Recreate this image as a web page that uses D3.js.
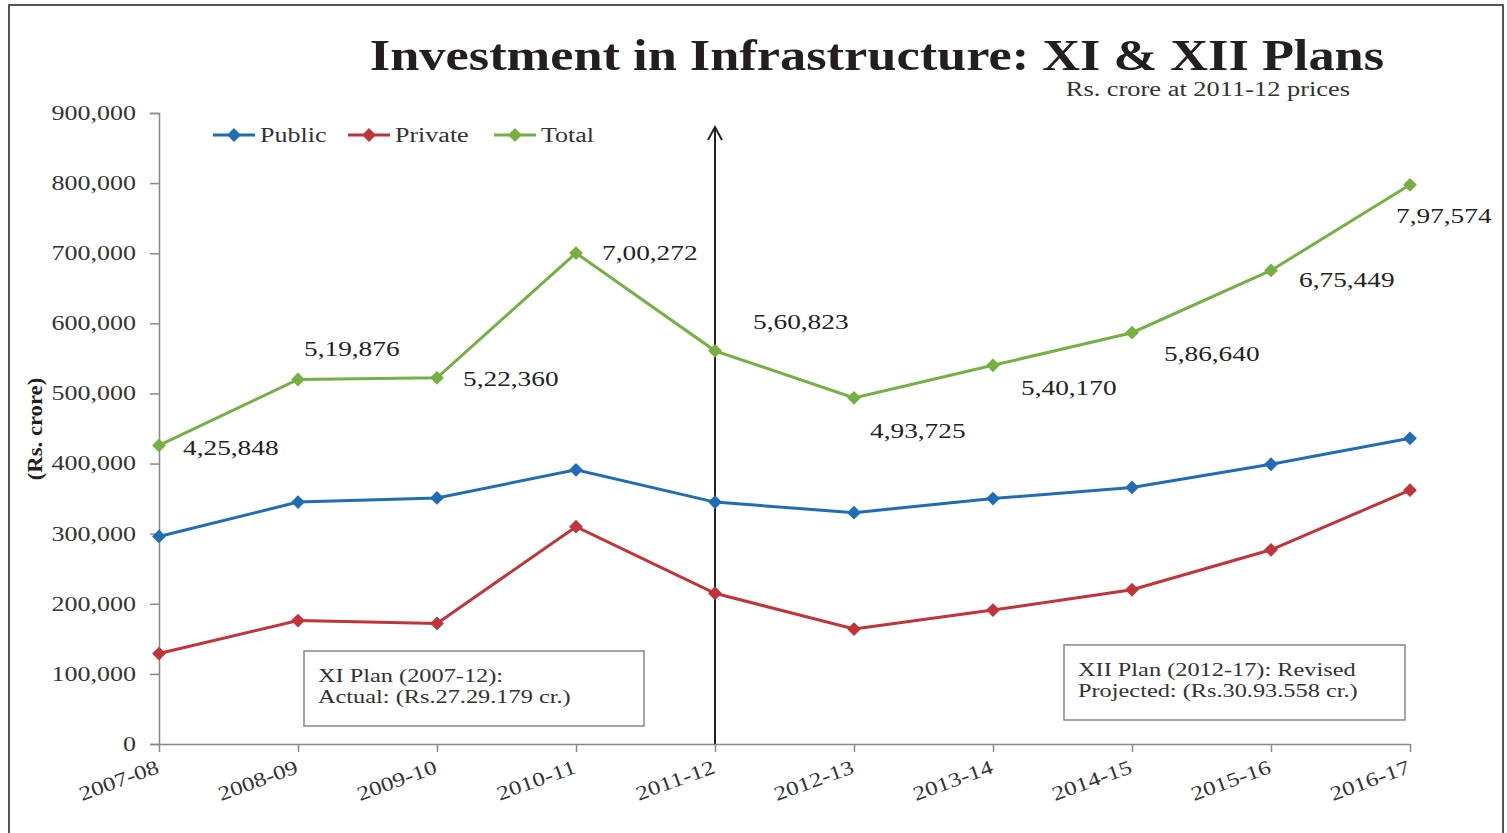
<!DOCTYPE html>
<html>
<head>
<meta charset="utf-8">
<script src="https://cdn.jsdelivr.net/npm/d3@7"></script>
<style>
  body { margin: 0; background: #fff; }
  text { font-family: "Liberation Serif", "DejaVu Serif", serif; }
</style>
</head>
<body>
<div id="chart"></div>
<script>
// data
const years = ["2007-08", "2008-09", "2009-10", "2010-11", "2011-12",
               "2012-13", "2013-14", "2014-15", "2015-16", "2016-17"];
const publicInv  = [296000, 345000, 351000, 391000, 345000, 330000, 350000, 366000, 399000, 436000];
const privateInv = [129000, 176000, 172000, 310000, 215000, 164000, 191000, 220000, 277000, 362000];
const totalInv   = [425848, 519876, 522360, 700272, 560823, 493725, 540170, 586640, 675449, 797574];
const totalLabels = ["4,25,848", "5,19,876", "5,22,360", "7,00,272", "5,60,823",
                     "4,93,725", "5,40,170", "5,86,640", "6,75,449", "7,97,574"];
const yTicks = [0, 100000, 200000, 300000, 400000, 500000, 600000, 700000, 800000, 900000];

const svgWidth = 1507, svgHeight = 833;
const margin = { top: 113, right: 97, bottom: 89, left: 159 };
const width = svgWidth - margin.left - margin.right;
const height = svgHeight - margin.top - margin.bottom;

// the source uses a wide serif, so stretch Liberation Serif horizontally
function stretch(sel, k) {
  sel.each(function() {
    const w = this.getComputedTextLength();
    d3.select(this).attr("textLength", w * k).attr("lengthAdjust", "spacingAndGlyphs");
  });
}

const svg = d3.select("#chart").append("svg")
    .attr("width", svgWidth)
    .attr("height", svgHeight);

// outer frame
svg.append("rect")
    .attr("x", 9).attr("y", 5)
    .attr("width", 1494).attr("height", 840)
    .attr("fill", "none")
    .attr("stroke", "#555")
    .attr("stroke-width", 2);

svg.append("text")
    .attr("x", 877).attr("y", 70)
    .attr("text-anchor", "middle")
    .attr("font-size", 44).attr("font-weight", "bold")
    .attr("fill", "#231f20")
    .text("Investment in Infrastructure: XI & XII Plans")
    .call(stretch, 1.19);

svg.append("text")
    .attr("x", 1350).attr("y", 96)
    .attr("text-anchor", "end")
    .attr("font-size", 20)
    .attr("fill", "#333")
    .text("Rs. crore at 2011-12 prices")
    .call(stretch, 1.32);

const chart = svg.append("g")
    .attr("transform", `translate(${margin.left},${margin.top})`);

const x = d3.scalePoint().domain(years).range([0, width]);
const y = d3.scaleLinear().domain([0, 900000]).range([height, 0]);

const fmt = d3.format(",");

// axes
const yAxis = chart.append("g")
    .call(d3.axisLeft(y).tickValues(yTicks).tickFormat(d => fmt(d)).tickSize(9).tickPadding(14));
yAxis.selectAll("line, path").attr("stroke", "#888").attr("stroke-width", 1.5);
yAxis.selectAll("text").attr("font-size", 20).attr("fill", "#333")
    .style("font-family", "Liberation Serif")
    .call(stretch, 1.3);

const xAxis = chart.append("g")
    .attr("transform", `translate(0,${height})`)
    .call(d3.axisBottom(x).tickSize(8).tickSizeOuter(0));
xAxis.selectAll("line, path").attr("stroke", "#888").attr("stroke-width", 1.5);
xAxis.selectAll("text")
    .attr("font-size", 20).attr("fill", "#333")
    .style("font-family", "Liberation Serif")
    .attr("text-anchor", "end")
    .attr("x", -9).attr("y", 27).attr("dy", 0)
    .attr("transform", "rotate(-20)")
    .call(stretch, 1.25);

svg.append("text")
    .attr("transform", "translate(42,429) rotate(-90)")
    .attr("text-anchor", "middle")
    .attr("font-size", 21).attr("font-weight", "bold")
    .attr("fill", "#231f20")
    .text("(Rs. crore)")
    .call(stretch, 1.08);

// plan divider arrow
const ax = x("2011-12");
chart.append("line")
    .attr("x1", ax).attr("x2", ax)
    .attr("y1", height).attr("y2", 15)
    .attr("stroke", "#222").attr("stroke-width", 2);
chart.append("path")
    .attr("d", `M${ax - 7},${27} L${ax},${14} L${ax + 7},${27}`)
    .attr("fill", "none")
    .attr("stroke", "#222")
    .attr("stroke-width", 2);

// series
const series = [
  { name: "Public", values: publicInv, color: "#1f6db5" },
  { name: "Private", values: privateInv, color: "#c0343a" },
  { name: "Total", values: totalInv, color: "#76b043" }
];

const line = d3.line().x((d, i) => x(years[i])).y(d => y(d));
const diamond = d3.symbol().type(d3.symbolSquare).size(95);

series.forEach(s => {
  chart.append("path")
      .datum(s.values)
      .attr("fill", "none")
      .attr("stroke", s.color)
      .attr("stroke-width", 3)
      .attr("d", line);
  chart.selectAll(null)
      .data(s.values)
      .join("path")
      .attr("d", diamond)
      .attr("transform", (d, i) => `translate(${x(years[i])},${y(d)}) rotate(45)`)
      .attr("fill", s.color);
});

// total labels
const labelOffsets = [[24, 10], [6, -24], [26, 8], [26, 7], [38, -22],
                      [16, 40], [28, 30], [32, 28], [28, 17], [-14, 38]];
chart.selectAll(".tlabel")
    .data(totalInv)
    .join("text")
    .attr("class", "tlabel")
    .attr("x", (d, i) => x(years[i]) + labelOffsets[i][0])
    .attr("y", (d, i) => y(d) + labelOffsets[i][1])
    .attr("font-size", 21)
    .attr("fill", "#222")
    .text((d, i) => totalLabels[i])
    .call(stretch, 1.3);

// legend
const legend = svg.append("g").attr("transform", "translate(213,135)");
let lx = 0;
const legendWidths = [135, 146, 0];
series.forEach((s, i) => {
  const g = legend.append("g").attr("transform", `translate(${lx},0)`);
  g.append("line").attr("x1", 0).attr("x2", 42)
      .attr("stroke", s.color).attr("stroke-width", 3);
  g.append("path").attr("d", diamond).attr("transform", "translate(21,0) rotate(45)").attr("fill", s.color);
  g.append("text").attr("x", 47).attr("y", 7)
      .attr("font-size", 20).attr("fill", "#333").text(s.name)
      .call(stretch, 1.3);
  lx += legendWidths[i];
});

// plan boxes
const boxes = [
  { x: 304, y: 651, w: 340, h: 75, lines: ["XI Plan (2007-12):", "Actual: (Rs.27.29.179 cr.)"] },
  { x: 1064, y: 645, w: 341, h: 75, lines: ["XII Plan (2012-17): Revised", "Projected: (Rs.30.93.558 cr.)"] }
];
boxes.forEach(b => {
  svg.append("rect")
      .attr("x", b.x).attr("y", b.y).attr("width", b.w).attr("height", b.h)
      .attr("fill", "#fff").attr("stroke", "#888").attr("stroke-width", 1.5);
  b.lines.forEach((t, i) => {
    svg.append("text")
        .attr("x", b.x + 14).attr("y", b.y + 31 + i * 21)
        .attr("font-size", 19).attr("fill", "#333").text(t)
        .call(stretch, 1.28);
  });
});
</script>
</body>
</html>
